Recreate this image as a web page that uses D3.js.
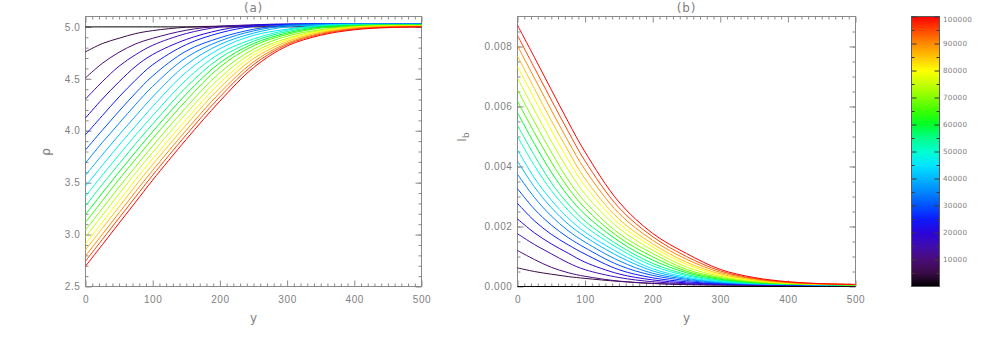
<!DOCTYPE html>
<html>
<head>
<meta charset="utf-8">
<script src="https://cdn.jsdelivr.net/npm/d3@7"></script>
<style>
  body { margin: 0; background: #fff; }
  svg { display: block; }
</style>
</head>
<body>
<svg id="chart" width="997" height="338"></svg>
<script>
// sample positions along y, shared by every curve
const yPos = [0, 25, 50, 75, 100, 150, 200, 250, 300, 350, 400, 450, 500]

// colour-bar value of each curve (t = 0 ... 100000)
const times = [0, 5000, 10000, 15000, 20000, 25000, 30000, 35000, 40000, 45000, 50000,
  55000, 60000, 65000, 70000, 75000, 80000, 85000, 90000, 95000, 100000]

// panel (a): rho at yPos, one row per time
const rhoCurves = [
  [5.000, 5.000, 5.000, 5.000, 5.000, 5.000, 5.000, 5.000, 5.000, 5.000, 5.000, 5.000, 5.000],
  [4.760, 4.839, 4.891, 4.936, 4.964, 4.997, 5.007, 5.008, 5.008, 5.008, 5.008, 5.008, 5.008],
  [4.509, 4.649, 4.756, 4.837, 4.890, 4.968, 5.007, 5.017, 5.018, 5.018, 5.018, 5.018, 5.018],
  [4.305, 4.472, 4.622, 4.734, 4.823, 4.936, 4.999, 5.019, 5.025, 5.025, 5.025, 5.025, 5.025],
  [4.123, 4.305, 4.472, 4.622, 4.734, 4.879, 4.969, 5.017, 5.028, 5.030, 5.030, 5.030, 5.030],
  [3.961, 4.145, 4.326, 4.491, 4.636, 4.830, 4.942, 5.005, 5.024, 5.030, 5.030, 5.030, 5.030],
  [3.815, 4.005, 4.189, 4.366, 4.528, 4.768, 4.895, 4.977, 5.019, 5.029, 5.030, 5.030, 5.030],
  [3.690, 3.886, 4.072, 4.256, 4.427, 4.705, 4.864, 4.961, 5.012, 5.025, 5.028, 5.028, 5.028],
  [3.572, 3.768, 3.961, 4.145, 4.326, 4.636, 4.830, 4.940, 5.001, 5.020, 5.026, 5.026, 5.026],
  [3.466, 3.666, 3.862, 4.049, 4.233, 4.565, 4.790, 4.918, 4.978, 5.015, 5.024, 5.024, 5.024],
  [3.367, 3.572, 3.768, 3.961, 4.145, 4.491, 4.745, 4.884, 4.968, 5.010, 5.020, 5.022, 5.022],
  [3.276, 3.483, 3.682, 3.878, 4.064, 4.420, 4.700, 4.862, 4.955, 5.003, 5.017, 5.020, 5.020],
  [3.193, 3.400, 3.603, 3.799, 3.991, 4.353, 4.654, 4.839, 4.941, 4.996, 5.013, 5.018, 5.018],
  [3.118, 3.325, 3.533, 3.729, 3.924, 4.292, 4.613, 4.818, 4.928, 4.988, 5.009, 5.016, 5.016],
  [3.043, 3.251, 3.458, 3.658, 3.854, 4.226, 4.559, 4.786, 4.911, 4.973, 5.005, 5.014, 5.014],
  [2.977, 3.185, 3.392, 3.596, 3.792, 4.167, 4.509, 4.756, 4.890, 4.965, 5.001, 5.011, 5.012],
  [2.910, 3.118, 3.325, 3.533, 3.729, 4.108, 4.460, 4.727, 4.875, 4.958, 4.996, 5.008, 5.010],
  [2.852, 3.060, 3.267, 3.475, 3.674, 4.057, 4.413, 4.695, 4.859, 4.948, 4.991, 5.005, 5.008],
  [2.794, 3.002, 3.209, 3.417, 3.619, 4.005, 4.366, 4.663, 4.843, 4.938, 4.984, 5.000, 5.005],
  [2.745, 2.952, 3.160, 3.367, 3.572, 3.961, 4.326, 4.636, 4.830, 4.929, 4.978, 4.997, 5.003],
  [2.695, 2.902, 3.110, 3.317, 3.525, 3.917, 4.285, 4.608, 4.816, 4.919, 4.972, 4.993, 5.000]
]

// panel (b): I_b at yPos, one row per time
const ibCurves = [
  [0, 0, 0, 0, 0, 0, 0, 0, 0, 0, 0, 0, 0],
  [0.00062, 0.00050, 0.00041, 0.00033, 0.00027, 0.00017, 0.00010, 0.00006, 0.000045, 0.000035, 0.00003, 0.000027, 0.000025],
  [0.00120, 0.00090, 0.00064, 0.00046, 0.00034, 0.00018, 0.000103, 0.000073, 0.000057, 0.000047, 0.000039, 0.000033, 0.000029],
  [0.00176, 0.00140, 0.00109, 0.00079, 0.00056, 0.00030, 0.000158, 0.000094, 0.00007, 0.000055, 0.000045, 0.000038, 0.000032],
  [0.00225, 0.00179, 0.00142, 0.00111, 0.00081, 0.00042, 0.00022, 0.000122, 0.000081, 0.000063, 0.00005, 0.000042, 0.000035],
  [0.00277, 0.00219, 0.00174, 0.00139, 0.00108, 0.00056, 0.00029, 0.000157, 0.000094, 0.00007, 0.000055, 0.000045, 0.000038],
  [0.00326, 0.00258, 0.00205, 0.00163, 0.00129, 0.00071, 0.00037, 0.00020, 0.00011, 0.000076, 0.00006, 0.000048, 0.00004],
  [0.00374, 0.00297, 0.00235, 0.00186, 0.00148, 0.00086, 0.00044, 0.00024, 0.000128, 0.000083, 0.000064, 0.000051, 0.000042],
  [0.00418, 0.00332, 0.00263, 0.00208, 0.00166, 0.00100, 0.00052, 0.00027, 0.000147, 0.00009, 0.000068, 0.000053, 0.000044],
  [0.00456, 0.00362, 0.00288, 0.00228, 0.00181, 0.00112, 0.00059, 0.00031, 0.000165, 0.000097, 0.000071, 0.000056, 0.000045],
  [0.00500, 0.00403, 0.00320, 0.00254, 0.00201, 0.00126, 0.00069, 0.00036, 0.00019, 0.000108, 0.000075, 0.000059, 0.000048],
  [0.00537, 0.00437, 0.00346, 0.00275, 0.00218, 0.00137, 0.00077, 0.00040, 0.00021, 0.000117, 0.000079, 0.000062, 0.000049],
  [0.00579, 0.00476, 0.00381, 0.00302, 0.00240, 0.00151, 0.00088, 0.00046, 0.00024, 0.000131, 0.000084, 0.000065, 0.000051],
  [0.00618, 0.00513, 0.00415, 0.00329, 0.00261, 0.00164, 0.00099, 0.00051, 0.00027, 0.000146, 0.00009, 0.000067, 0.000053],
  [0.00656, 0.00549, 0.00448, 0.00355, 0.00282, 0.00177, 0.00110, 0.00057, 0.00030, 0.00016, 0.000095, 0.00007, 0.000055],
  [0.00695, 0.00588, 0.00484, 0.00389, 0.00308, 0.00194, 0.00121, 0.00065, 0.00034, 0.00018, 0.000104, 0.000074, 0.000058],
  [0.00734, 0.00626, 0.00521, 0.00422, 0.00335, 0.00210, 0.00132, 0.00074, 0.00038, 0.00020, 0.000113, 0.000077, 0.00006],
  [0.00768, 0.00660, 0.00553, 0.00452, 0.00359, 0.00225, 0.00142, 0.00081, 0.00042, 0.00022, 0.00012, 0.000081, 0.000063],
  [0.00802, 0.00695, 0.00588, 0.00484, 0.00389, 0.00244, 0.00154, 0.00091, 0.00047, 0.00025, 0.000134, 0.000085, 0.000065],
  [0.00837, 0.00729, 0.00622, 0.00517, 0.00418, 0.00263, 0.00166, 0.00100, 0.00052, 0.00027, 0.000147, 0.00009, 0.000068],
  [0.00871, 0.00764, 0.00656, 0.00549, 0.00448, 0.00282, 0.00177, 0.00110, 0.00057, 0.00030, 0.00016, 0.000095, 0.00007]
]

// tick labels
const xTicks = [0, 100, 200, 300, 400, 500]
const rhoTicks = [2.5, 3.0, 3.5, 4.0, 4.5, 5.0]
const ibTicks = [0, 0.002, 0.004, 0.006, 0.008]
const barTicks = [10000, 20000, 30000, 40000, 50000, 60000, 70000, 80000, 90000, 100000]

// colour table (fraction of the bar -> colour)
const barStops = [0, 0.05, 0.10, 0.15, 0.20, 0.25, 0.30, 0.35, 0.40, 0.45, 0.50,
  0.55, 0.60, 0.65, 0.70, 0.75, 0.80, 0.85, 0.90, 0.95, 1.0]
const barColors = ["#000000", "#3a0c46", "#4a0c78", "#400cb0", "#2a04da", "#0c1cff", "#0052ff",
  "#0086ff", "#00b6ff", "#00e6ff", "#00ffd0", "#00ff8a", "#00ff28", "#3cff00", "#84ff00",
  "#c6ff00", "#ffff00", "#ffc400", "#ff8a00", "#ff4600", "#ff0000"]

const FONT = "'DejaVu Sans', sans-serif"
const axisColor = "#8a8a8a"
const textColor = "#808080"

const svg = d3.select("#chart")

const color = d3.scaleLinear()
  .domain(barStops.map(s => s * 100000))
  .range(barColors)
  .interpolate(d3.interpolateRgb)

function put(g, axis, tx, ty, size) {
  return g.append("g")
    .attr("transform", "translate(" + tx + "," + ty + ")")
    .attr("color", axisColor)
    .attr("font-family", FONT)
    .attr("font-size", size || 12)
    .call(axis)
    .call(a => a.select(".domain").remove())
    .call(a => a.selectAll("text").attr("fill", textColor).style("letter-spacing", "0.6px"))
}

function panel(x, y, yMajor, yMinor, yFmt, yPad, curves, title, ylab) {
  const g = svg.append("g")
  const [x0, x1] = x.range(), [y0, y1] = y.range()
  const xMinor = d3.range(0, 501, 10).filter(v => v % 100 !== 0)

  g.append("rect")
    .attr("x", x0).attr("y", y1)
    .attr("width", x1 - x0).attr("height", y0 - y1)
    .attr("fill", "none").attr("stroke", axisColor)

  put(g, d3.axisBottom(x).tickValues(xTicks).tickSize(-6).tickPadding(9).tickFormat(d3.format("d")), 0, y0)
  put(g, d3.axisBottom(x).tickValues(xMinor).tickSize(-3).tickFormat(""), 0, y0)
  put(g, d3.axisTop(x).tickValues(xTicks).tickSize(-6).tickFormat(""), 0, y1)
  put(g, d3.axisTop(x).tickValues(xMinor).tickSize(-3).tickFormat(""), 0, y1)
  put(g, d3.axisLeft(y).tickValues(yMajor).tickSize(-6).tickPadding(yPad).tickFormat(yFmt), x0, 0)
  put(g, d3.axisLeft(y).tickValues(yMinor).tickSize(-3).tickFormat(""), x0, 0)
  put(g, d3.axisRight(y).tickValues(yMajor).tickSize(-6).tickFormat(""), x1, 0)
  put(g, d3.axisRight(y).tickValues(yMinor).tickSize(-3).tickFormat(""), x1, 0)

  const line = d3.line()
    .x((d, i) => x(yPos[i]))
    .y(d => y(d))
    .curve(d3.curveCatmullRom.alpha(0.5))

  g.append("g")
    .selectAll("path")
    .data(curves)
    .join("path")
    .attr("d", line)
    .attr("fill", "none")
    .attr("stroke", (d, i) => color(times[i]))
    .attr("stroke-width", 1)

  const cx = (x0 + x1) / 2
  g.append("text")
    .attr("x", cx).attr("y", 12)
    .attr("text-anchor", "middle")
    .attr("font-family", FONT).attr("font-size", 12)
    .attr("fill", textColor)
    .style("letter-spacing", "0.8px")
    .text(title)

  g.append("text")
    .attr("x", cx).attr("y", 322)
    .attr("text-anchor", "middle")
    .attr("font-family", FONT).attr("font-size", 12)
    .attr("fill", textColor)
    .text("y")

  ylab(g)
}

// panel (a)
const xa = d3.scaleLinear().domain([0, 500]).range([85.5, 421.5])
const ya = d3.scaleLinear().domain([2.5, 5.1]).range([286.5, 16.5])
panel(xa, ya, rhoTicks, d3.range(2.6, 5.09, 0.1), d3.format(".1f"), 5, rhoCurves, "(a)", g => {
  g.append("text")
    .attr("transform", "translate(50,152) rotate(-90)")
    .attr("text-anchor", "middle")
    .attr("font-family", FONT).attr("font-size", 12)
    .attr("fill", textColor)
    .text("\u03c1")
})

// panel (b)
const xb = d3.scaleLinear().domain([0, 500]).range([517.5, 855.5])
const yb = d3.scaleLinear().domain([0, 0.009]).range([286.5, 16.5])
panel(xb, yb, ibTicks, d3.range(0.0005, 0.009, 0.0005), d3.format(".3f"), 5, ibCurves, "(b)", g => {
  const t = g.append("text")
    .attr("transform", "translate(466,137) rotate(-90)")
    .attr("text-anchor", "middle")
    .attr("font-family", FONT).attr("font-size", 12)
    .attr("fill", textColor)
  t.append("tspan").text("I")
  t.append("tspan").attr("font-size", 9).attr("dy", 3).text("b")
})

// colour bar
const bx0 = 911.5, bx1 = 939.5
const by = d3.scaleLinear().domain([0, 100000]).range([286.5, 16.5])
const grad = svg.append("defs").append("linearGradient")
  .attr("id", "bar").attr("x1", 0).attr("y1", 1).attr("x2", 0).attr("y2", 0)
grad.selectAll("stop")
  .data(barStops)
  .join("stop")
  .attr("offset", d => d)
  .attr("stop-color", (d, i) => barColors[i])

const bar = svg.append("g")
bar.append("rect")
  .attr("x", bx0).attr("y", by(100000))
  .attr("width", bx1 - bx0).attr("height", by(0) - by(100000))
  .attr("fill", "url(#bar)")
  .attr("stroke", "#5a5a5a")

const barMinor = d3.range(5000, 100000, 10000)
const tickCol = "#3a3a3a"
bar.append("g").attr("transform", "translate(" + bx0 + ",0)").attr("color", tickCol)
  .call(d3.axisLeft(by).tickValues(barTicks).tickSize(-5).tickFormat(""))
  .call(a => a.select(".domain").remove())
bar.append("g").attr("transform", "translate(" + bx0 + ",0)").attr("color", tickCol)
  .call(d3.axisLeft(by).tickValues(barMinor).tickSize(-3).tickFormat(""))
  .call(a => a.select(".domain").remove())
bar.append("g").attr("transform", "translate(" + bx1 + ",0)").attr("color", tickCol)
  .call(d3.axisRight(by).tickValues(barTicks).tickSize(-5).tickFormat(""))
  .call(a => a.select(".domain").remove())
bar.append("g").attr("transform", "translate(" + bx1 + ",0)").attr("color", tickCol)
  .call(d3.axisRight(by).tickValues(barMinor).tickSize(-3).tickFormat(""))
  .call(a => a.select(".domain").remove())

bar.append("g")
  .selectAll("text")
  .data(barTicks)
  .join("text")
  .attr("x", bx1 + 3.5)
  .attr("y", d => Math.max(by(d), 19))
  .attr("dy", "0.35em")
  .attr("font-family", FONT).attr("font-size", 7.2)
  .attr("fill", textColor)
  .style("letter-spacing", "0.3px")
  .text(d => d)
</script>
</body>
</html>
